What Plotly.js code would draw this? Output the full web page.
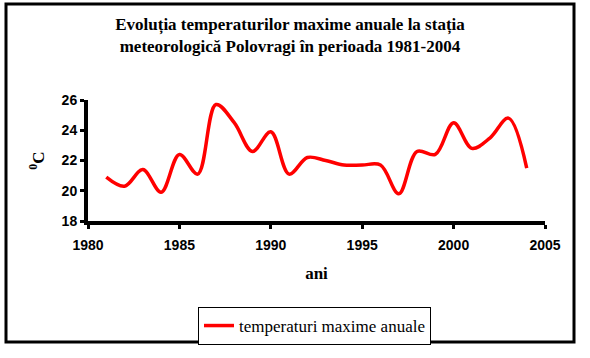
<!DOCTYPE html>
<html>
<head>
<meta charset="utf-8">
<script src="https://cdn.plot.ly/plotly-3.0.1.min.js"></script>
<style>
html,body{margin:0;padding:0;background:#fff;}
#chart{width:590px;height:358px;}
</style>
</head>
<body>
<div id="chart"></div>
<script>
const years = [1981,1982,1983,1984,1985,1986,1987,1988,1989,1990,1991,1992,1993,1994,1995,1996,1997,1998,1999,2000,2001,2002,2003,2004];
const tempMax = [20.9,20.3,21.4,19.9,22.4,21.1,25.7,24.5,22.6,23.9,21.1,22.2,22.0,21.7,21.7,21.7,19.8,22.6,22.4,24.5,22.8,23.5,24.8,21.5];
const seriesName = 'temperaturi maxime anuale';
const chartTitle = 'Evoluția temperaturilor maxime anuale la stația<br>meteorologică Polovragi în perioada 1981-2004';
const xTitle = 'ani';
const yTitle = '<sup>0</sup>C';
const xTicks = [1980,1985,1990,1995,2000,2005];
const yTicks = [18,20,22,24,26];

const serif = 'Liberation Serif, Times New Roman, serif';
const sans = 'Liberation Sans, Arial, sans-serif';

const trace = {
  x: years, y: tempMax, name: seriesName, type: 'scatter', mode: 'lines',
  line: {color: '#ff0000', width: 3.5, shape: 'spline', smoothing: 1},
  showlegend: true
};

const L = 88, R = 45, T = 100, B = 137;
const W = 590 - L - R, H = 358 - T - B;
const px = v => (v - L) / W;
const py = v => (358 - B - v) / H;

const layout = {
  width: 590, height: 358,
  margin: {l: L, r: R, t: T, b: B},
  paper_bgcolor: '#ffffff', plot_bgcolor: '#ffffff',
  title: {text: chartTitle, font: {family: serif, size: 17, color: '#000', weight: 'bold'},
          x: 290/590, xanchor: 'center', y: 1 - 30/358, yanchor: 'top', yref: 'container'},
  xaxis: {
    range: [1980, 2005], tickvals: xTicks, ticktext: xTicks.map(String),
    showgrid: false, zeroline: false, showline: true, linecolor: '#000', linewidth: 4,
    ticks: 'outside', ticklen: 4, tickwidth: 3, tickcolor: '#000', ticklabelstandoff: 4,
    tickfont: {family: sans, size: 14, color: '#000', weight: 'bold'},
    title: {text: xTitle, font: {family: serif, size: 17, color: '#000', weight: 'bold'}, standoff: 16}
  },
  yaxis: {
    range: [18, 26], tickvals: yTicks, ticktext: yTicks.map(String),
    showgrid: false, zeroline: false, showline: true, linecolor: '#000', linewidth: 4,
    ticks: 'outside', ticklen: 4, tickwidth: 3, tickcolor: '#000',
    tickfont: {family: sans, size: 14, color: '#000', weight: 'bold'},
    title: {text: yTitle, font: {family: serif, size: 17, color: '#000', weight: 'bold'}, standoff: 14}
  },
  legend: {
    x: px(198), xanchor: 'left', y: py(307), yanchor: 'top',
    bgcolor: '#ffffff', bordercolor: '#000', borderwidth: 1,
    font: {family: serif, size: 17, color: '#000'}
  },
  shapes: [{
    type: 'rect', xref: 'paper', yref: 'paper',
    x0: px(6), x1: px(574), y0: py(342), y1: py(4),
    line: {color: '#000', width: 3}, fillcolor: 'rgba(0,0,0,0)', layer: 'below'
  }]
};

Plotly.newPlot('chart', [trace], layout, {displayModeBar: false, staticPlot: true});
</script>
</body>
</html>
